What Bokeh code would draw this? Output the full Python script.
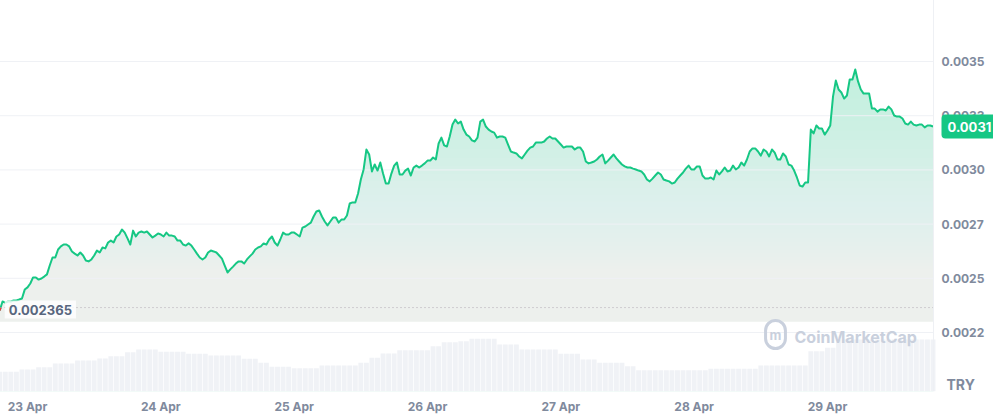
import numpy as np
import pandas as pd
from bokeh.plotting import figure
from bokeh.models import Range1d, FixedTicker, Span, Label
from bokeh.embed import file_html
from bokeh.resources import INLINE

# ---------------- DATA ----------------
price_start = "2024-04-22 19:00"   # 30-minute samples
prices = [
    0.002352, 0.002393, 0.002388, 0.002393, 0.002393, 0.002398, 0.002398, 0.002402, 0.002407, 0.002448,
    0.002458, 0.002476, 0.002504, 0.002504, 0.002494, 0.002499, 0.002508, 0.002518, 0.002559, 0.002596,
    0.002596, 0.002633, 0.002647, 0.002656, 0.002656, 0.002647, 0.002624, 0.002614, 0.002605, 0.002619,
    0.002605, 0.002582, 0.002578, 0.002587, 0.002605, 0.002628, 0.002619, 0.002642, 0.002638, 0.002665,
    0.002674, 0.002665, 0.002693, 0.002702, 0.002725, 0.002711, 0.002684, 0.002656, 0.002720, 0.002693,
    0.002711, 0.002716, 0.002711, 0.002716, 0.002702, 0.002688, 0.002697, 0.002707, 0.002702, 0.002693,
    0.002711, 0.002697, 0.002697, 0.002693, 0.002674, 0.002674, 0.002656, 0.002651, 0.002661, 0.002651,
    0.002633, 0.002614, 0.002596, 0.002587, 0.002596, 0.002619, 0.002628, 0.002624, 0.002619, 0.002605,
    0.002591, 0.002559, 0.002527, 0.002541, 0.002554, 0.002568, 0.002578, 0.002578, 0.002568, 0.002587,
    0.002601, 0.002614, 0.002633, 0.002642, 0.002647, 0.002661, 0.002656, 0.002679, 0.002693, 0.002665,
    0.002651, 0.002679, 0.002711, 0.002702, 0.002702, 0.002711, 0.002711, 0.002702, 0.002693, 0.002734,
    0.002739, 0.002748, 0.002757, 0.002785, 0.002808, 0.002813, 0.002785, 0.002762, 0.002744, 0.002762,
    0.002780, 0.002780, 0.002757, 0.002771, 0.002771, 0.002790, 0.002845, 0.002850, 0.002850, 0.002891,
    0.002956, 0.003002, 0.003094, 0.003071, 0.002993, 0.003025, 0.002997, 0.003034, 0.002983, 0.002937,
    0.002937, 0.002983, 0.003020, 0.003034, 0.002979, 0.002979, 0.002997, 0.003006, 0.002974, 0.003011,
    0.003020, 0.003011, 0.003020, 0.003030, 0.003043, 0.003043, 0.003057, 0.003048, 0.003122, 0.003149,
    0.003113, 0.003108, 0.003154, 0.003209, 0.003232, 0.003214, 0.003223, 0.003186, 0.003163, 0.003154,
    0.003136, 0.003131, 0.003149, 0.003223, 0.003232, 0.003200, 0.003186, 0.003177, 0.003172, 0.003149,
    0.003154, 0.003154, 0.003149, 0.003117, 0.003085, 0.003080, 0.003076, 0.003062, 0.003053, 0.003071,
    0.003089, 0.003103, 0.003108, 0.003126, 0.003126, 0.003126, 0.003131, 0.003145, 0.003154, 0.003145,
    0.003145, 0.003131, 0.003117, 0.003103, 0.003108, 0.003108, 0.003108, 0.003094, 0.003103, 0.003103,
    0.003085, 0.003039, 0.003030, 0.003034, 0.003039, 0.003048, 0.003062, 0.003071, 0.003030, 0.003043,
    0.003057, 0.003071, 0.003053, 0.003039, 0.003025, 0.003016, 0.003011, 0.003011, 0.003006, 0.003002,
    0.002997, 0.002993, 0.002979, 0.002956, 0.002947, 0.002960, 0.002974, 0.002988, 0.002979, 0.002956,
    0.002951, 0.002947, 0.002937, 0.002942, 0.002960, 0.002974, 0.002988, 0.003006, 0.003020, 0.003002,
    0.003002, 0.003016, 0.003016, 0.002974, 0.002960, 0.002960, 0.002965, 0.002956, 0.002997, 0.002979,
    0.002993, 0.003011, 0.002993, 0.002997, 0.003020, 0.003002, 0.003011, 0.003034, 0.003020, 0.003048,
    0.003085, 0.003099, 0.003099, 0.003085, 0.003066, 0.003094, 0.003085, 0.003062, 0.003094, 0.003080,
    0.003048, 0.003048, 0.003076, 0.003062, 0.003025, 0.003020, 0.002997, 0.002965, 0.002928, 0.002923,
    0.002942, 0.002942, 0.003186, 0.003168, 0.003205, 0.003191, 0.003191, 0.003163, 0.003182, 0.003205,
    0.003339, 0.003412, 0.003371, 0.003357, 0.003329, 0.003343, 0.003417, 0.003417, 0.003463, 0.003408,
    0.003371, 0.003352, 0.003352, 0.003352, 0.003283, 0.003283, 0.003269, 0.003279, 0.003279, 0.003274,
    0.003292, 0.003279, 0.003251, 0.003246, 0.003246, 0.003237, 0.003214, 0.003209, 0.003223, 0.003209,
    0.003205, 0.003209, 0.003209, 0.003196, 0.003205, 0.003205, 0.003200,
]
volume_start = "2024-04-22 19:00"  # hourly samples
volumes = [  # 24h volume, relative units
    1.97, 1.97, 1.97, 1.97, 2.20, 2.20, 2.20, 2.43, 2.43, 2.43,
    2.80, 2.80, 2.80, 2.80, 3.10, 3.10, 3.10, 3.10, 3.30, 3.30,
    3.53, 3.53, 3.53, 3.93, 3.93, 4.20, 4.20, 4.20, 4.20, 3.97,
    3.97, 3.97, 3.97, 3.97, 3.77, 3.77, 3.77, 3.77, 3.60, 3.60,
    3.60, 3.60, 3.60, 3.60, 3.27, 3.27, 3.27, 2.87, 2.87, 2.47,
    2.47, 2.47, 2.47, 2.33, 2.33, 2.33, 2.33, 2.33, 2.60, 2.60,
    2.60, 2.60, 2.60, 2.60, 2.60, 2.87, 2.87, 3.37, 3.37, 3.80,
    3.80, 3.80, 4.13, 4.13, 4.13, 4.13, 4.13, 4.13, 4.53, 4.53,
    4.93, 4.93, 4.93, 5.03, 5.03, 5.27, 5.27, 5.27, 5.27, 5.27,
    4.70, 4.70, 4.70, 4.70, 4.20, 4.20, 4.20, 4.20, 4.20, 4.20,
    4.20, 3.77, 3.77, 3.77, 3.77, 3.20, 3.20, 3.20, 2.87, 2.87,
    2.87, 2.87, 2.87, 2.53, 2.53, 2.13, 2.13, 2.13, 2.13, 2.13,
    2.13, 2.13, 2.13, 2.13, 2.13, 2.13, 2.13, 2.13, 2.27, 2.27,
    2.27, 2.27, 2.27, 2.27, 2.27, 2.27, 2.27, 2.60, 2.60, 2.60,
    2.60, 2.60, 2.60, 2.60, 2.60, 2.60, 4.03, 4.03, 4.03, 4.37,
    4.37, 5.20, 5.20, 5.20, 5.20, 5.20, 5.20, 5.20, 5.20, 5.20,
    5.20, 5.20, 5.20, 5.20, 5.20, 5.20, 5.20, 5.20, 5.20,
]
base_price = 0.002365
base_label = "0.002365"
last_price_label = "0.0031"
y_ticks = [0.00225, 0.0025, 0.00275, 0.003, 0.00325, 0.0035]
y_tick_labels = ["0.0022", "0.0025", "0.0027", "0.0030", "0.0033", "0.0035"]
x_tick_dates = ["2024-04-23", "2024-04-24", "2024-04-25", "2024-04-26",
                "2024-04-27", "2024-04-28", "2024-04-29"]
x_tick_labels = ["23 Apr", "24 Apr", "25 Apr", "26 Apr", "27 Apr", "28 Apr", "29 Apr"]
currency = "TRY"
watermark = "CoinMarketCap"

# ---------------- STYLE ----------------
GREEN = "#16c784"
RED = "#ea3943"
AXIS_TXT = "#808a9d"
BORDER = "#eef0f4"
FONT = "Inter"

p_times = pd.date_range(price_start, periods=len(prices), freq="30min")
t_ms = (p_times.asi8 // 10**6).astype(float)
v_times = pd.date_range(volume_start, periods=len(volumes), freq="h")
v_ms = (v_times.asi8 // 10**6).astype(float)
hour_ms = 3600 * 1000.0

# chart area = left 937 px of a 997 px frame; the rest holds the price scale
x_start = t_ms[0] - 35 * 60000
x_end = t_ms[-1] + 5 * 60000
x_view_end = x_start + (x_end - x_start) * 997.0 / 937.0
y_start, y_end = 0.0019779, 0.0037860

p = figure(frame_width=997, frame_height=392, x_axis_type="datetime", y_axis_location="right",
           x_range=Range1d(x_start, x_view_end), y_range=Range1d(y_start, y_end),
           output_backend="svg", toolbar_location=None,
           min_border_left=0, min_border_top=3, min_border_right=0, min_border_bottom=0)
p.styles = {"margin-left": "-4px", "margin-top": "-4px"}
p.background_fill_color = "white"
p.border_fill_color = "white"
p.outline_line_color = None
p.extra_y_ranges = {"vol": Range1d(0, 39.2)}

# area fill with vertical gradient (fill + stacked white veils)
p.varea(x=t_ms, y1=y_start, y2=prices, fill_color=GREEN, fill_alpha=0.27, level="image")
g_top, g_bot = 0.0035, 0.00230
veil_alpha = 0.05
veil_tops = [g_bot + (g_top - g_bot) * (1 - veil_alpha) ** k for k in range(1, 61)]
p.quad(left=x_start, right=x_end, bottom=y_start, top=veil_tops,
       fill_color="white", fill_alpha=veil_alpha, line_color=None, level="image")
p.quad(left=x_start, right=x_end, bottom=y_start, top=g_bot,
       fill_color="white", fill_alpha=1.0, line_color=None, level="image")

# horizontal grid lines across the chart area only
p.segment(x0=x_start, x1=x_end, y0=y_ticks, y1=y_ticks, line_color="#eff1f5",
          line_width=1, level="underlay")

# volume bars
p.vbar(x=v_ms, top=volumes, bottom=0, width=0.88 * hour_ms, y_range_name="vol",
       fill_color="#f0f2f6", line_color=None, level="underlay")

# chart borders
p.add_layout(Span(location=x_start, dimension="height", line_color=BORDER, line_width=1))
p.add_layout(Span(location=x_end, dimension="height", line_color=BORDER, line_width=1))

# price line
p.line(t_ms, prices, line_color=GREEN, line_width=2, line_join="round")

# red segments below the base price
red_xs, red_ys = [], []
for i in range(len(prices) - 1):
    a, b = prices[i], prices[i + 1]
    ta, tb = t_ms[i], t_ms[i + 1]
    if a >= base_price and b >= base_price:
        continue
    if a < base_price and b < base_price:
        red_xs.append([ta, tb]); red_ys.append([a, b])
    else:
        f = (base_price - a) / (b - a)
        tc = ta + f * (tb - ta)
        if a < base_price:
            red_xs.append([ta, tc]); red_ys.append([a, base_price])
        else:
            red_xs.append([tc, tb]); red_ys.append([base_price, b])
if red_xs:
    p.multi_line(red_xs, red_ys, line_color=RED, line_width=2)

# base price dotted line (chart area only) + label
p.segment(x0=x_start, x1=x_end, y0=base_price, y1=base_price, line_color="#b3a9b4",
          line_width=1, line_dash="1 3")
p.add_layout(Label(x=t_ms[0], y=base_price, text=base_label, x_offset=5, y_offset=-2,
                   text_font=FONT, text_font_size="13px", text_font_style="bold",
                   text_color="#58667e", text_baseline="middle", text_align="left",
                   background_fill_color="white", background_fill_alpha=0.8, padding=4))

# watermark
p.add_layout(Label(x=798, y=55, x_units="screen", y_units="screen", text=watermark,
                   text_font=FONT, text_font_size="16px", text_font_style="bold",
                   text_color="#c9d0dd", text_baseline="middle", text_align="left"))
p.add_layout(Label(x=779, y=57, x_units="screen", y_units="screen", text="m",
                   text_font=FONT, text_font_size="13px", text_font_style="bold",
                   text_color="#c9d0dd", text_baseline="middle", text_align="center",
                   border_line_color="#c9d0dd", border_line_width=3, border_radius=12,
                   padding=(4, 6)))

# current price tag + currency
p.add_layout(Label(x=x_end, y=prices[-1], text=last_price_label, x_offset=8,
                   text_font=FONT, text_font_size="13px", text_font_style="bold",
                   text_color="white", text_baseline="middle", text_align="left",
                   background_fill_color=GREEN, border_radius=4, padding=(6, 7),
                   level="overlay"))
p.add_layout(Label(x=950, y=7, x_units="screen", y_units="screen", text=currency,
                   text_font=FONT, text_font_size="14px", text_font_style="bold",
                   text_color=AXIS_TXT, text_baseline="middle", text_align="left"))

# axes
p.yaxis.ticker = FixedTicker(ticks=y_ticks)
p.yaxis.major_label_overrides = dict(zip(y_ticks, y_tick_labels))
x_tick_ms = [float(pd.Timestamp(d).value // 10**6) for d in x_tick_dates]
p.xaxis.ticker = FixedTicker(ticks=x_tick_ms)
p.xaxis.major_label_overrides = dict(zip(x_tick_ms, x_tick_labels))
for ax in (p.xaxis[0], p.yaxis[0]):
    ax.axis_line_color = None
    ax.major_tick_line_color = None
    ax.minor_tick_line_color = None
    ax.major_tick_out = 0
    ax.major_tick_in = 0
    ax.minor_tick_out = 0
    ax.minor_tick_in = 0
    ax.major_label_text_font = FONT
    ax.major_label_text_font_size = "12px"
    ax.major_label_text_font_style = "bold"
    ax.major_label_text_color = AXIS_TXT
p.yaxis.major_label_standoff = -52
p.xaxis.major_label_standoff = 7
p.ygrid.grid_line_color = None
p.xgrid.grid_line_color = None

open("out.html", "w").write(file_html(p, INLINE))
